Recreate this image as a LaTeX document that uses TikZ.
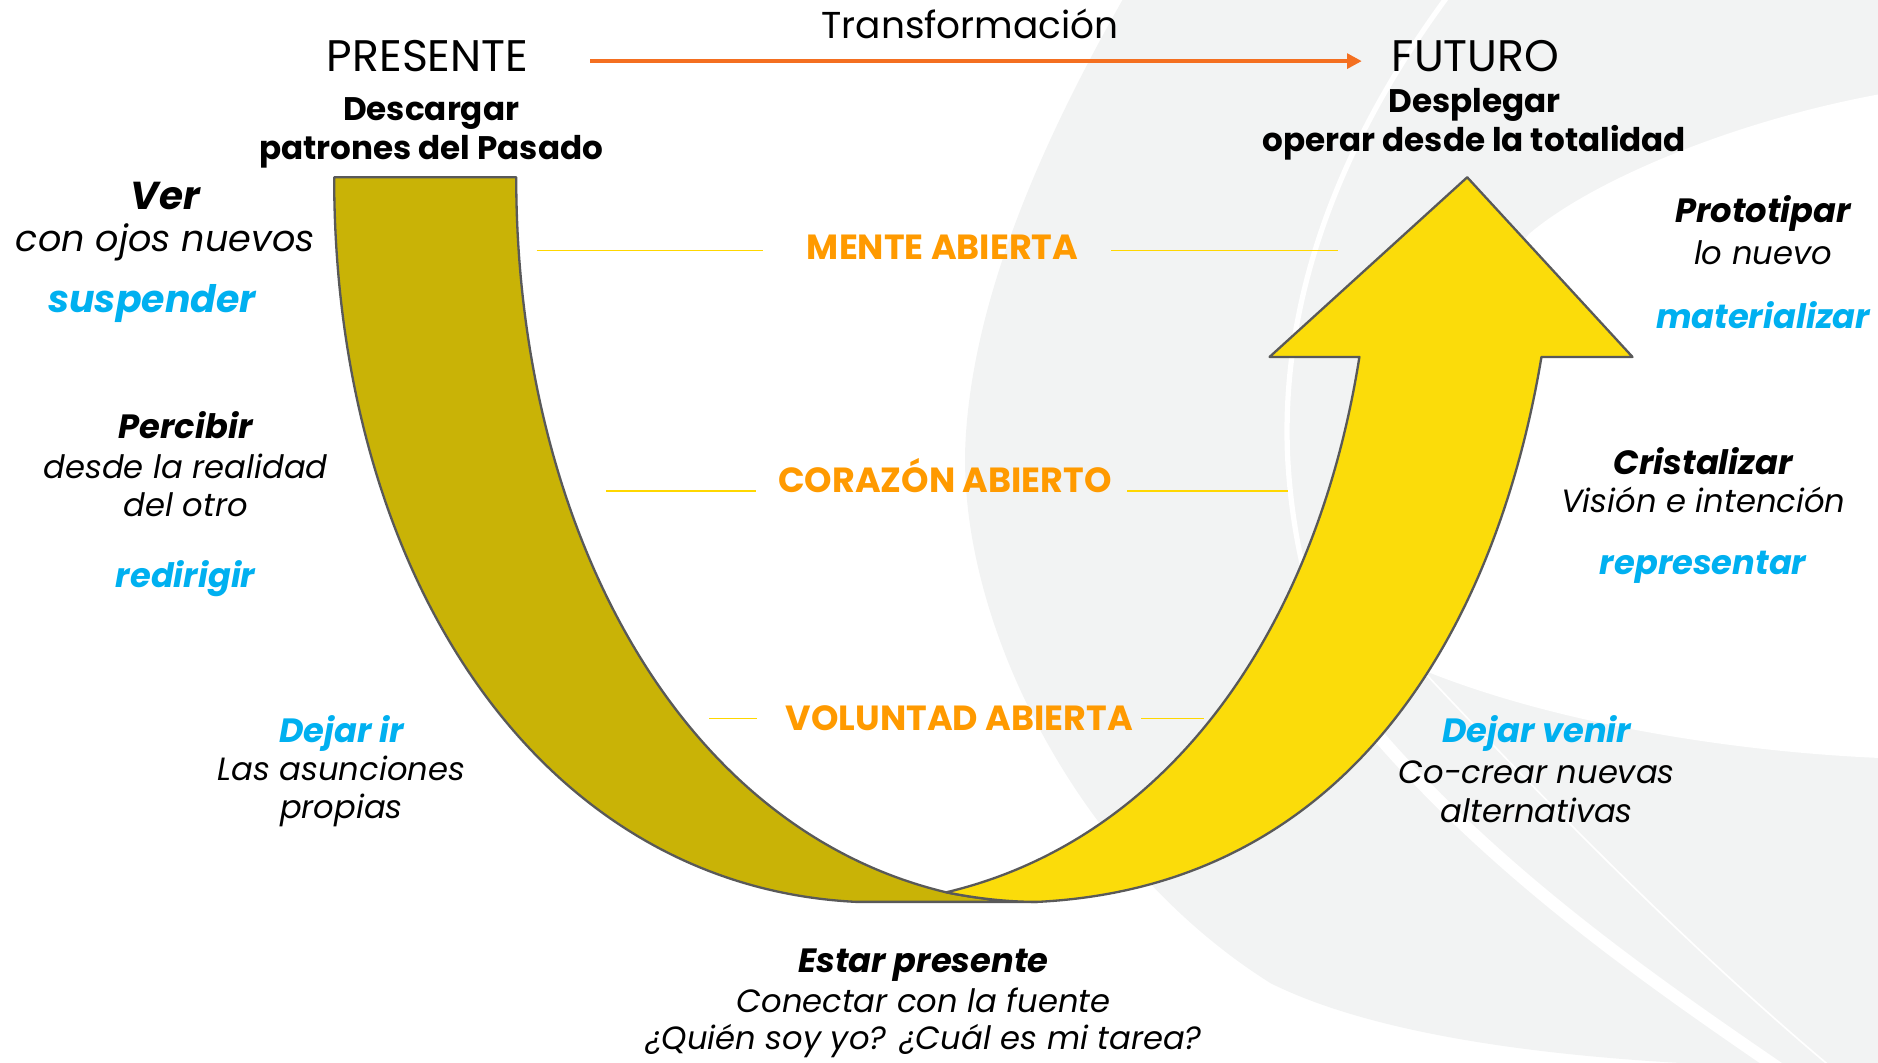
\documentclass[tikz,border=0pt]{standalone}
\usepackage{fontspec}
\setmainfont{Poppins}
\usepackage{tikz}
\usetikzlibrary{arrows.meta}
\definecolor{bandbrown}{HTML}{C9B306}
\definecolor{bandyellow}{HTML}{FBDC0A}
\definecolor{edgegray}{HTML}{595959}
\definecolor{openorange}{HTML}{FF9A00}
\definecolor{verbcyan}{HTML}{00B0F0}
\definecolor{floworange}{HTML}{F46F20}
\definecolor{guideyellow}{HTML}{FFD700}
\definecolor{swoosh}{HTML}{F2F3F3}

\begin{document}
\begin{tikzpicture}[x=0.02cm, y=-0.02cm,
  band/.style={draw=edgegray, line width=1.1pt, line join=round},
  guide/.style={draw=guideyellow, line width=0.7pt},
  flow/.style={draw=floworange, line width=1.7pt, -{Triangle[length=7pt,width=7pt]}},
  level/.style={font=\bfseries\fontsize{16.6}{18}\selectfont, text=openorange, anchor=base},
  pole/.style={font=\fontsize{21}{23}\selectfont},
  goal/.style={font=\bfseries\fontsize{15.5}{18.7}\selectfont, align=center},
  phase/.style={font=\bfseries\itshape\fontsize{16}{18}\selectfont},
  desc/.style={font=\itshape\fontsize{15.3}{18.2}\selectfont, align=center},
  verb/.style={font=\bfseries\itshape\fontsize{16}{18}\selectfont, text=verbcyan}]
  \useasboundingbox (0,0) rectangle (1568,887);

  \begin{scope}
    \clip (0,0) rectangle (1568,887);
    \fill[swoosh] (940,-5) .. controls (880,100) and (812,240) .. (806,371)
      .. controls (800,520) and (900,720) .. (1061,821)
      .. controls (1180,880) and (1400,892) .. (1573,892) -- (1573,-5) -- cycle;
    \fill[white] (1573,78) .. controls (1450,100) and (1330,150) .. (1277,195)
      .. controls (1220,260) and (1170,360) .. (1172,440)
      .. controls (1173,500) and (1178,530) .. (1187,559)
      .. controls (1300,605) and (1450,628) .. (1573,633) -- cycle;
    \draw[white, line width=2.5pt] (1210,-5) .. controls (1110,130) and (1070,260) .. (1075,380)
      .. controls (1080,480) and (1110,560) .. (1147,610);
    \draw[white, line width=6pt] (1147,610) .. controls (1250,730) and (1380,820) .. (1485,892);
    \draw[white, line width=0.8pt] (1187,559) .. controls (1300,680) and (1420,800) .. (1530,892);
  \end{scope}

  \node[pole, font=\fontsize{17.8}{20}\selectfont] (trans) at (810,20) {Transformación};
  \node[pole] (present) at (357,47)  {PRESENTE};
  \node[pole] (future)  at (1232,47) {FUTURO};
  \coordinate (flowstart) at (493,51);
  \coordinate (flowend)   at (1137,51);
  \draw[flow] (flowstart) -- (flowend);

  \node[goal] (download) at (360,111) {Descargar\\patrones del Pasado};
  \node[goal] (unfold)   at (1231,104) {Desplegar\\operar desde la totalidad};

  \draw[band, fill=bandbrown] (279,148) .. controls (279,480) and (450,740) .. (715,753)
    -- (866,753) .. controls (840,753) and (815,750) .. (790,745)
    .. controls (560,690) and (431,430) .. (431,148) -- cycle;
  \draw[band, fill=bandyellow] (790,745) .. controls (815,750) and (840,753) .. (866,753)
    .. controls (1130,740) and (1250,520) .. (1287,298)
    -- (1363,298) -- (1225,148) -- (1060,298) -- (1135,298)
    .. controls (1100,520) and (980,700) .. (790,745) -- cycle;

  \node[level] (mind)  at (787,217) {MENTE ABIERTA};
  \node[level] (heart) at (789,411) {CORAZÓN ABIERTO};
  \node[level] (will)  at (801,610) {VOLUNTAD ABIERTA};
  \draw[guide] (448,209) -- (637,209);
  \draw[guide] (928,209) -- (1117,209);
  \draw[guide] (506,410) -- (631,410);
  \draw[guide] (941,410) -- (1075,410);
  \draw[guide] (592,600) -- (632,600);
  \draw[guide] (953,600) -- (1005,600);

  \node[phase, font=\bfseries\itshape\fontsize{18.5}{20}\selectfont] (see) at (138,164) {Ver};
  \node[desc, font=\itshape\fontsize{17.4}{20}\selectfont] (seedesc) at (138,202) {con ojos nuevos};
  \node[verb, font=\bfseries\itshape\fontsize{18}{20}\selectfont] (suspend) at (127,253) {suspender};

  \node[phase] (sense) at (155,355) {Percibir};
  \node[desc] (sensedesc) at (155,405) {desde la realidad\\del otro};
  \node[verb] (redirect) at (155,483) {redirigir};

  \node[verb] (letgo) at (285,612) {Dejar ir};
  \node[desc] (letgodesc) at (285,661) {Las asunciones\\propias};

  \node[phase] (presence) at (771,806) {Estar presente};
  \node[desc, font=\itshape\fontsize{15.3}{17.6}\selectfont] (presencedesc) at (771,854) {Conectar con la fuente\\¿Quién soy yo? ¿Cuál es mi tarea?};

  \node[verb] (letcome) at (1283,612) {Dejar venir};
  \node[desc] (letcomedesc) at (1283,661) {Co-crear nuevas\\alternativas};

  \node[phase] (crystal) at (1422,385) {Cristalizar};
  \node[desc] (crystaldesc) at (1422,417) {Visión e intención};
  \node[verb] (enact) at (1422,474) {representar};

  \node[phase] (proto) at (1472,178) {Prototipar};
  \node[desc] (protodesc) at (1472,211) {lo nuevo};
  \node[verb] (embody) at (1472,263) {materializar};
\end{tikzpicture}
\end{document}
